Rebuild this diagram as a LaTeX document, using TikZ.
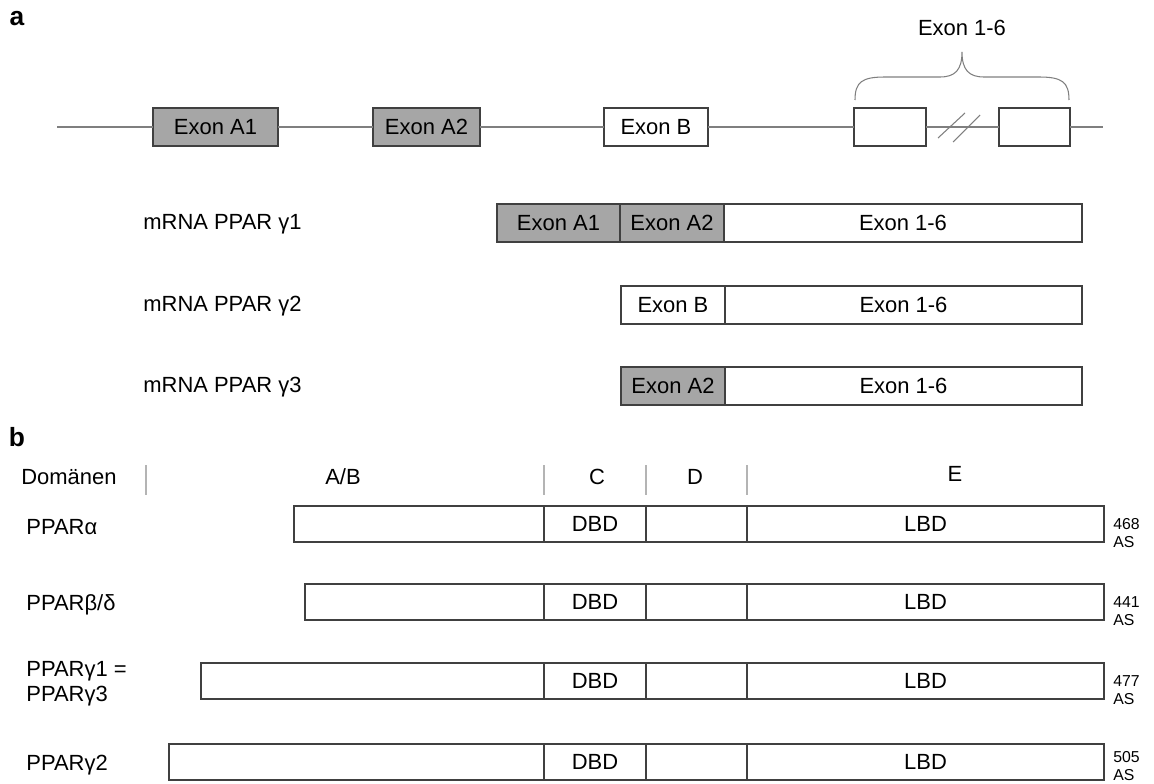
\documentclass[tikz,border=0pt]{standalone}
\usepackage{fontspec}
\setmainfont{Liberation Sans}
\usetikzlibrary{calc, positioning}

\begin{document}
\begin{tikzpicture}[x=0.02cm, y=-0.02cm,
    exonBox/.style={draw=borderColour, line width=0.7pt, inner sep=0pt, outer sep=0pt,
        anchor=west, minimum height=38*\unitLen, font=\fontsize{12.5}{14}\selectfont},
    greyBox/.style={exonBox, fill=fillColour},
    domBox/.style={exonBox, minimum height=36*\unitLen},
    geneLine/.style={draw=lineColour, line width=0.6pt},
    headLine/.style={draw=headColour, line width=0.7pt},
    rowLabel/.style={anchor=west, inner sep=0pt, align=left, font=\fontsize{12.5}{14}\selectfont},
    asLabel/.style={anchor=west, inner sep=0pt, align=left, font=\fontsize{9}{10}\selectfont},
    panelLabel/.style={inner sep=0pt, font=\fontsize{15}{17}\selectfont\bfseries}]
    % Define colours
    \definecolor{borderColour}{HTML}{404040}
    \definecolor{fillColour}{HTML}{A6A6A6}
    \definecolor{lineColour}{HTML}{7F7F7F}
    \definecolor{headColour}{HTML}{B4B4B4}

    % Define unit length (one pixel)
    \def\unitLen{0.02cm}

    % Fix page size
    \useasboundingbox (0,0) rectangle (1154,784);

    % Panel labels
    \node[panelLabel] (pa) at (17,19) {a};
    \node[panelLabel] (pb) at (17,437) {b};

    % Draw gene with exons
    \coordinate (gStart) at (57,127);
    \coordinate (gEnd) at (1103,127);
    \node[greyBox, minimum width=125*\unitLen] (gA1) at (153,127) {Exon A1};
    \node[greyBox, minimum width=107*\unitLen] (gA2) at (373,127) {Exon A2};
    \node[exonBox, minimum width=104*\unitLen] (gB) at (604,127) {Exon B};
    \node[exonBox, minimum width=72*\unitLen] (gE1) at (854,127) {};
    \node[exonBox, minimum width=71*\unitLen] (gE2) at (999,127) {};
    \draw[geneLine] (gStart) -- (gA1) -- (gA2) -- (gB) -- (gE1) -- (gE2) -- (gEnd);

    % Break marks
    \draw[geneLine] (938,138) -- (965,113);
    \draw[geneLine] (953,142) -- (980,115);

    % Brace over exon 1-6
    \coordinate (bL) at ($(gE1.north west)+(1,-8)$);
    \coordinate (bR) at ($(gE2.north east)+(-1,-8)$);
    \coordinate (bT) at (962,52);
    \draw[geneLine] (bL) .. controls (855,82) and (862,77) .. (885,77) -- (940,77)
        .. controls (955,77) and (962,70) .. (bT)
        .. controls (962,70) and (969,77) .. (984,77) -- (1039,77)
        .. controls (1062,77) and (1069,82) .. (bR);
    \node[font=\fontsize{12.5}{14}\selectfont] (ex16) at (962,28) {Exon 1-6};

    % mRNA rows
    \node[rowLabel] (m1) at (143,224) {mRNA PPAR γ1};
    \node[greyBox, minimum width=123*\unitLen] (m1A1) at (497,223) {Exon A1};
    \node[greyBox, minimum width=104*\unitLen, right=0pt of m1A1] (m1A2) {Exon A2};
    \node[exonBox, minimum width=358*\unitLen, right=0pt of m1A2] (m1E) {Exon 1-6};

    \node[rowLabel] (m2) at (143,306) {mRNA PPAR γ2};
    \node[exonBox, minimum width=104*\unitLen] (m2B) at (621,305) {Exon B};
    \node[exonBox, minimum width=357*\unitLen, right=0pt of m2B] (m2E) {Exon 1-6};

    \node[rowLabel] (m3) at (143,387) {mRNA PPAR γ3};
    \node[greyBox, minimum width=104*\unitLen] (m3A2) at (621,386) {Exon A2};
    \node[exonBox, minimum width=357*\unitLen, right=0pt of m3A2] (m3E) {Exon 1-6};

    % Domain header
    \node[rowLabel] (dom) at (21,477) {Domänen};
    \foreach \x in {146,544,646,747}
        \draw[headLine] (\x,465) -- (\x,495);
    \node[font=\fontsize{12.5}{14}\selectfont] (hAB) at (343,477) {A/B};
    \node[font=\fontsize{12.5}{14}\selectfont] (hC) at (597,477) {C};
    \node[font=\fontsize{12.5}{14}\selectfont] (hD) at (695,477) {D};
    \node[font=\fontsize{12.5}{14}\selectfont] (hE) at (955,474) {E};

    % Receptor rows
    \node[rowLabel] (lAlpha) at (26,527) {PPARα};
    \node[rowLabel] (lBeta) at (26,605) {PPARβ/δ};
    \node[rowLabel] (lGamA) at (26,684) {PPARγ1 =\\PPARγ3};
    \node[rowLabel] (lGamB) at (26,765) {PPARγ2};
    \foreach \nm/\lx/\cy/\aa/\dy in {alpha/294/524/468/9, beta/305/602/441/9, gamA/201/681/477/9, gamB/169/762/505/4} {
        \node[domBox, minimum width={(544-\lx)*\unitLen}] (\nm AB) at (\lx,\cy) {};
        \node[domBox, minimum width=102*\unitLen, right=0pt of \nm AB] (\nm C) {DBD};
        \node[domBox, minimum width=101*\unitLen, right=0pt of \nm C] (\nm D) {};
        \node[domBox, minimum width=357*\unitLen, right=0pt of \nm D] (\nm E) {LBD};
        \node[asLabel] (\nm AS) at ($(\nm E.east)+(9,\dy)$) {\aa\\AS};
    }

\end{tikzpicture}
\end{document}
